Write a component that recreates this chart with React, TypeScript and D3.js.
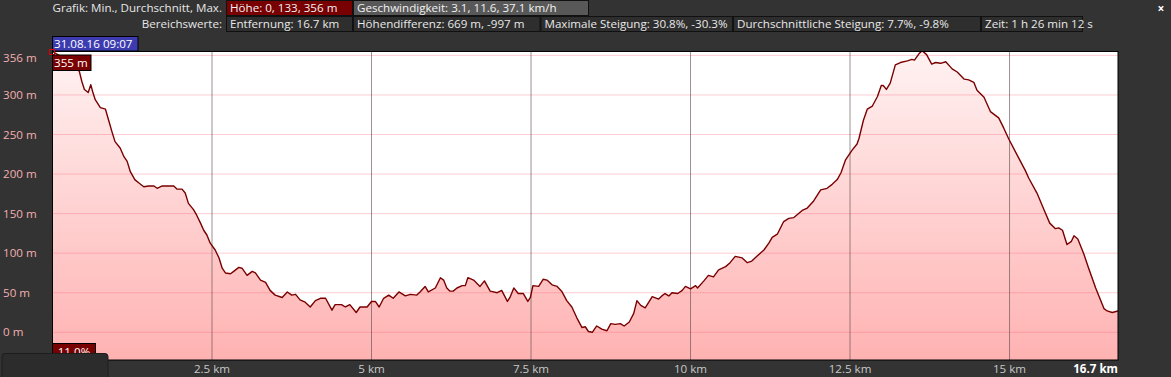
import React from "react";
import * as d3 from "d3";

// Elevation profile: distance (km) and height (m)
const distanceKm = [
  0.0, 0.12, 0.27, 0.42, 0.46, 0.5, 0.56, 0.6, 0.63, 0.67, 0.75, 0.83, 0.88, 0.93, 0.98, 1.06, 1.12, 1.17, 1.22, 1.29,
  1.35, 1.43, 1.51, 1.59, 1.64, 1.72, 1.82, 1.9, 1.95, 2.03, 2.08, 2.13, 2.21, 2.26, 2.32, 2.37, 2.42, 2.47, 2.55, 2.61,
  2.66, 2.71, 2.79, 2.84, 2.92, 2.97, 3.05, 3.13, 3.18, 3.26, 3.34, 3.41, 3.49, 3.6, 3.68, 3.75, 3.81, 3.88, 3.96, 4.04,
  4.12, 4.2, 4.28, 4.38, 4.43, 4.53, 4.59, 4.66, 4.76, 4.82, 4.93, 5.0, 5.06, 5.12, 5.19, 5.27, 5.34, 5.43, 5.53, 5.61,
  5.71, 5.76, 5.84, 5.89, 6.0, 6.08, 6.13, 6.18, 6.23, 6.28, 6.34, 6.42, 6.47, 6.51, 6.6, 6.7, 6.77, 6.86, 6.97, 7.04,
  7.13, 7.17, 7.23, 7.3, 7.38, 7.45, 7.49, 7.53, 7.62, 7.69, 7.75, 7.83, 7.91, 7.98, 8.06, 8.14, 8.22, 8.3, 8.35, 8.4,
  8.46, 8.53, 8.61, 8.69, 8.75, 8.82, 8.9, 8.96, 9.04, 9.11, 9.16, 9.22, 9.29, 9.4, 9.5, 9.55, 9.6, 9.66, 9.71, 9.8,
  9.87, 9.92, 10.0, 10.08, 10.11, 10.21, 10.28, 10.36, 10.44, 10.55, 10.62, 10.7, 10.81, 10.89, 10.96, 11.04, 11.15, 11.23, 11.28, 11.36,
  11.46, 11.54, 11.62, 11.75, 11.83, 11.93, 12.04, 12.14, 12.22, 12.3, 12.36, 12.43, 12.53, 12.61, 12.64, 12.71, 12.77, 12.85, 12.93, 12.99,
  13.02, 13.07, 13.13, 13.21, 13.29, 13.4, 13.47, 13.51, 13.58, 13.63, 13.7, 13.78, 13.84, 13.92, 14.0, 14.1, 14.18, 14.29, 14.36, 14.44,
  14.49, 14.6, 14.7, 14.83, 14.91, 14.99, 15.12, 15.25, 15.3, 15.43, 15.54, 15.63, 15.72, 15.77, 15.83, 15.9, 15.97, 16.01, 16.07, 16.16,
  16.24, 16.35, 16.48, 16.53, 16.61, 16.7,
];
const heightM = [
  355, 349, 341, 330, 317, 307, 303, 313, 304, 294, 284, 282, 268, 254, 241, 233, 222, 216, 203, 193,
  189, 184, 185, 185, 182, 185, 185, 185, 181, 181, 176, 163, 155, 148, 138, 129, 123, 113, 104, 94,
  81, 75, 74, 77, 82, 81, 72, 77, 75, 66, 63, 53, 47, 44, 51, 47, 48, 41, 38, 32,
  40, 43, 43, 28, 35, 35, 32, 35, 25, 32, 32, 39, 39, 32, 43, 47, 43, 51, 46, 48,
  47, 51, 58, 51, 56, 69, 66, 56, 52, 52, 56, 59, 59, 69, 66, 58, 65, 52, 50, 53,
  39, 44, 56, 49, 49, 39, 44, 59, 58, 67, 66, 60, 58, 52, 40, 32, 18, 6, 7, 1,
  0, 8, 4, 2, 11, 10, 11, 8, 13, 24, 40, 34, 31, 45, 42, 46, 49, 46, 50, 49,
  53, 58, 55, 59, 56, 65, 72, 70, 79, 83, 88, 96, 94, 88, 90, 96, 104, 113, 120, 124,
  140, 144, 145, 154, 157, 166, 180, 182, 187, 193, 202, 218, 230, 238, 245, 268, 282, 286, 298, 312,
  312, 307, 315, 338, 341, 343, 345, 344, 352, 356, 351, 339, 341, 340, 342, 333, 329, 320, 319, 316,
  306, 297, 279, 271, 258, 244, 224, 204, 195, 176, 155, 138, 131, 132, 129, 111, 115, 122, 118, 100,
  81, 56, 30, 27, 25, 27,
];

const xTicks = [2.5, 5, 7.5, 10, 12.5, 15];
const xTickLabels = ["2.5 km", "5 km", "7.5 km", "10 km", "12.5 km", "15 km"];
const yGrid = [0, 50, 100, 150, 200, 250, 300, 350];
const yLabels = [356, 300, 250, 200, 150, 100, 50, 0];

const headerRow1 = [
  { label: "Höhe: 0, 133, 356 m", kind: "red" },
  { label: "Geschwindigkeit: 3.1, 11.6, 37.1 km/h", kind: "gray" },
];
const headerRow2 = [
  "Entfernung: 16.7 km",
  "Höhendifferenz: 669 m, -997 m",
  "Maximale Steigung: 30.8%, -30.3%",
  "Durchschnittliche Steigung: 7.7%, -9.8%",
  "Zeit: 1 h 26 min 12 s",
];

const W = 1171;
const H = 377;
const L = 52.5;
const R = 1118;
const T = 51.5;
const B = 360;
const FONT = "'Open Sans', 'DejaVu Sans', sans-serif";
const FS = 11.6;

export default function App() {
  const x = d3.scaleLinear().domain([0, 16.7]).range([L, R]);
  const y = d3.scaleLinear().domain([0, 350]).range([332.3, 55.4]);
  const data = distanceKm.map((d, i) => ({ d, h: heightM[i] }));
  const area = d3
    .area<{ d: number; h: number }>()
    .x((p) => x(p.d))
    .y0(B)
    .y1((p) => y(p.h));
  const line = d3
    .line<{ d: number; h: number }>()
    .x((p) => x(p.d))
    .y((p) => y(p.h));

  const row1X = [226.5, 353.5, 589.5];
  const row2X = [226.5, 353.5, 541, 733.5, 981.5, 1083.5];

  return (
    <svg
      width={W}
      height={H}
      style={{ position: "absolute", left: 0, top: 0, fontFamily: FONT }}
    >
      <defs>
        <linearGradient id="fillGrad" gradientUnits="userSpaceOnUse" x1="0" y1={T} x2="0" y2={B}>
          <stop offset="0" stopColor="#fff2f2" />
          <stop offset="1" stopColor="#ffb2b2" />
        </linearGradient>
        <clipPath id="plotClip">
          <rect x={L} y={T} width={R - L} height={B - T} />
        </clipPath>
      </defs>
      <rect x={0} y={0} width={W} height={H} fill="#333333" />

      {/* plot */}
      <rect x={L} y={T} width={R - L} height={B - T} fill="#ffffff" />
      <g clipPath="url(#plotClip)">
        <path d={area(data) || ""} fill="url(#fillGrad)" />
        {yGrid.map((v) => (
          <line key={v} x1={L} x2={R} y1={y(v)} y2={y(v)} stroke="rgba(255,90,110,0.3)" strokeWidth={1} />
        ))}
        {xTicks.map((v) => (
          <line key={v} x1={x(v)} x2={x(v)} y1={T} y2={B} stroke="rgba(90,70,70,0.6)" strokeWidth={1} />
        ))}
        <path d={line(data) || ""} fill="none" stroke="#7a0000" strokeWidth={1.4} strokeLinejoin="round" />
      </g>
      <rect x={L} y={T} width={R - L} height={B - T} fill="none" stroke="#000" strokeWidth={1} />

      {/* y labels */}
      {yLabels.map((v) => (
        <text
          key={v}
          x={3}
          y={Math.max(y(v), 58) + 4}
          fill="#f2b0b0"
          fontSize={FS}
        >
          {v} m
        </text>
      ))}

      {/* x labels */}
      {xTicks.map((v, i) => (
        <text key={v} x={x(v)} y={373} fill="#c8c8c8" fontSize={FS} textAnchor="middle">
          {xTickLabels[i]}
        </text>
      ))}
      <text x={R} y={373} fill="#ffffff" fontSize={FS} fontWeight="bold" textAnchor="end">
        16.7 km
      </text>

      {/* header */}
      <text x={222} y={12} fill="#e6e6e6" fontSize={FS} textAnchor="end">
        Grafik: Min., Durchschnitt, Max.
      </text>
      <text x={222} y={28} fill="#e6e6e6" fontSize={FS} textAnchor="end">
        Bereichswerte:
      </text>
      {headerRow1.map((b, i) => (
        <g key={b.label}>
          <rect
            x={row1X[i]}
            y={0.5}
            width={row1X[i + 1] - row1X[i] - 1}
            height={15}
            fill={b.kind === "red" ? "#780000" : "#585858"}
            stroke="#111"
          />
          <text x={row1X[i] + 3.5} y={12} fill="#f2f2f2" fontSize={FS}>
            {b.label}
          </text>
        </g>
      ))}
      {headerRow2.map((label, i) => (
        <g key={label}>
          <rect
            x={row2X[i]}
            y={16.5}
            width={row2X[i + 1] - row2X[i] - 1}
            height={15}
            fill="#2e2e2e"
            stroke="#111"
          />
          <text x={row2X[i] + 3.5} y={28} fill="#e8e8e8" fontSize={FS}>
            {label}
          </text>
        </g>
      ))}
      <text x={1161} y={13} fill="#ffffff" fontSize={12} fontWeight="bold" textAnchor="middle">
        ×
      </text>

      {/* cursor labels */}
      <rect x={52.5} y={36.5} width={85.5} height={14.5} fill="#3c3cb0" stroke="#000" />
      <text x={54} y={48} fill="#ffffff" fontSize={FS}>
        31.08.16 09:07
      </text>
      <rect x={49.5} y={49.5} width={5} height={5} fill="none" stroke="#e00000" />
      <rect x={52.5} y={55} width={38.5} height={15.5} fill="#780000" stroke="#000" />
      <text x={54} y={67} fill="#ffffff" fontSize={FS}>
        355 m
      </text>
      <rect x={52.5} y={343.5} width={43} height={16} fill="#780000" stroke="#000" />
      <text x={54} y={356} fill="#ffffff" fontSize={FS}>
        -11.0%
      </text>
      <rect x={2} y={353.5} width={106} height={26} rx={3} fill="#2c2c2c" stroke="#1e1e1e" />
    </svg>
  );
}
